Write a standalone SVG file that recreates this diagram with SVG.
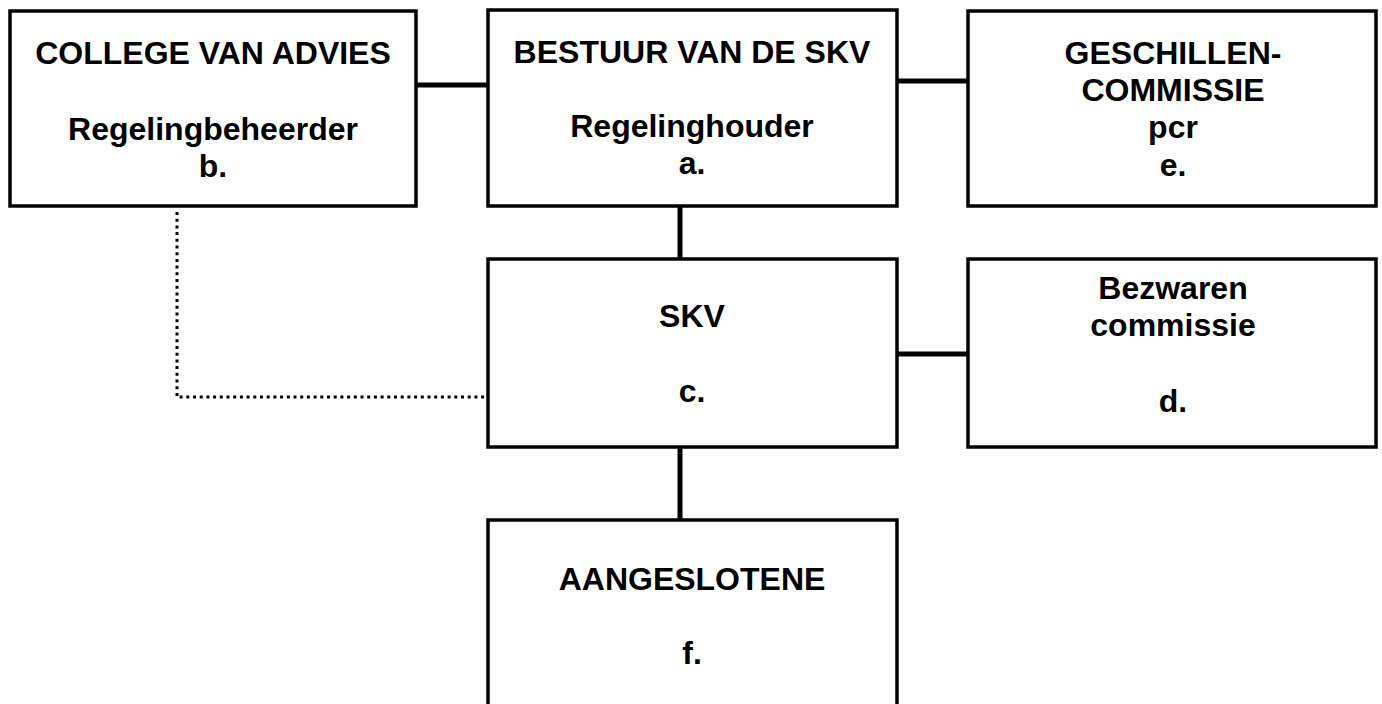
<svg xmlns="http://www.w3.org/2000/svg" width="1382" height="704" viewBox="0 0 1382 704">
<style>
.box{fill:#fff;stroke:#000;stroke-width:3.5}
.t{font-family:"Liberation Sans",Arial,sans-serif;font-weight:bold;font-size:32px;text-anchor:middle;fill:#000}
.ln{stroke:#000;stroke-width:5;fill:none}
.dot{stroke:#000;stroke-width:3;fill:none;stroke-dasharray:3 3.7}
</style>
<rect width="1382" height="704" fill="#fff"/>
<g id="connectors">
<line class="ln" x1="416" y1="85" x2="488" y2="85"/>
<line class="ln" x1="896" y1="81" x2="968" y2="81"/>
<line class="ln" x1="680" y1="205" x2="680" y2="259"/>
<line class="ln" x1="896" y1="354" x2="968" y2="354"/>
<line class="ln" x1="680" y1="447" x2="680" y2="520"/>
<polyline class="dot" points="177,212 177,397 488,397"/>
</g>
<g id="node-b">
<rect class="box" x="10" y="11" width="406" height="195"/>
<text class="t" x="213" y="64">COLLEGE VAN ADVIES</text>
<text class="t" x="213" y="140">Regelingbeheerder</text>
<text class="t" x="213" y="177">b.</text>
</g>
<g id="node-a">
<rect class="box" x="488" y="10" width="409" height="196"/>
<text class="t" x="692" y="63">BESTUUR VAN DE SKV</text>
<text class="t" x="692" y="137">Regelinghouder</text>
<text class="t" x="692" y="174">a.</text>
</g>
<g id="node-e">
<rect class="box" x="968" y="11" width="408" height="195"/>
<text class="t" x="1173" y="64">GESCHILLEN-</text>
<text class="t" x="1173" y="101">COMMISSIE</text>
<text class="t" x="1173" y="138">pcr</text>
<text class="t" x="1173" y="176">e.</text>
</g>
<g id="node-c">
<rect class="box" x="488" y="259" width="409" height="188"/>
<text class="t" x="692" y="327">SKV</text>
<text class="t" x="692" y="402">c.</text>
</g>
<g id="node-d">
<rect class="box" x="968" y="259" width="408" height="188"/>
<text class="t" x="1173" y="299">Bezwaren</text>
<text class="t" x="1173" y="336">commissie</text>
<text class="t" x="1173" y="412">d.</text>
</g>
<g id="node-f">
<rect class="box" x="488" y="520" width="409" height="200"/>
<text class="t" x="692" y="590">AANGESLOTENE</text>
<text class="t" x="692" y="664">f.</text>
</g>
</svg>
